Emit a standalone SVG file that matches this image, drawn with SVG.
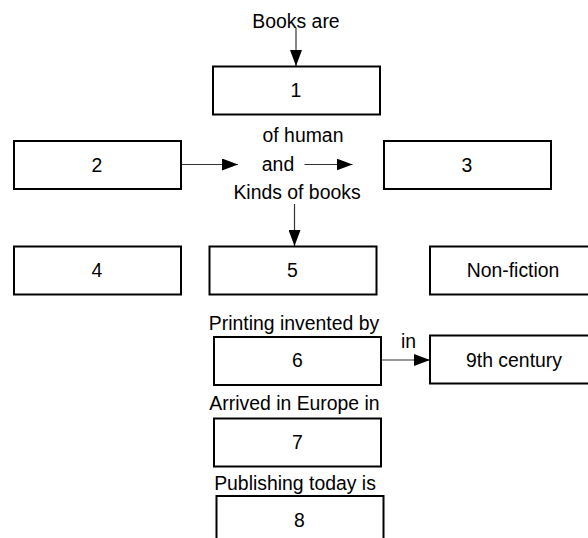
<svg xmlns="http://www.w3.org/2000/svg" width="588" height="538" viewBox="0 0 588 538">
<style>
  .box { fill: #ffffff; stroke: #000000; stroke-width: 2; }
  .t { font-family: "Liberation Sans", Arial, sans-serif; font-size: 19.4px; fill: #000000; text-anchor: middle; }
  .c { stroke: #333333; stroke-width: 1.2; fill: none; marker-end: url(#ah); }
</style>
<defs>
  <marker id="ah" markerUnits="userSpaceOnUse" markerWidth="16" markerHeight="12" refX="16" refY="6" orient="auto" viewBox="0 0 16 12">
    <path d="M0,0 L16,6 L0,12 Z" fill="#000000"/>
  </marker>
</defs>
<rect width="588" height="538" fill="#ffffff"/>

<g id="connectors">
  <line class="c" x1="296" y1="28" x2="296" y2="66"/>
  <line class="c" x1="182" y1="164.5" x2="238" y2="164.5"/>
  <line class="c" x1="304.5" y1="164.5" x2="352.5" y2="164.5"/>
  <line class="c" x1="294.5" y1="204" x2="294.5" y2="246"/>
  <line class="c" x1="382" y1="360" x2="430" y2="360"/>
</g>

<g id="labels">
  <text class="t" x="296" y="27.5">Books are</text>
  <text class="t" x="303" y="142">of human</text>
  <text class="t" x="278" y="171">and</text>
  <text class="t" x="297" y="198.5">Kinds of books</text>
  <text class="t" x="294" y="329.5">Printing invented by</text>
  <text class="t" x="408.5" y="348">in</text>
  <text class="t" x="294.5" y="409.5">Arrived in Europe in</text>
  <text class="t" x="295" y="490">Publishing today is</text>
</g>

<g id="node1"><rect class="box" x="213" y="66.5" width="167" height="48"/><text class="t" x="296" y="97">1</text></g>
<g id="node2"><rect class="box" x="14" y="141" width="167" height="48"/><text class="t" x="97" y="172">2</text></g>
<g id="node3"><rect class="box" x="384" y="141" width="167" height="48"/><text class="t" x="467" y="172">3</text></g>
<g id="node4"><rect class="box" x="14" y="246.5" width="167" height="48"/><text class="t" x="97" y="277">4</text></g>
<g id="node5"><rect class="box" x="209.5" y="246.5" width="167" height="48"/><text class="t" x="292.5" y="277">5</text></g>
<g id="nodeNonFiction"><rect class="box" x="430" y="246.5" width="167" height="48"/><text class="t" x="513" y="277">Non-fiction</text></g>
<g id="node6"><rect class="box" x="214" y="337" width="167" height="48"/><text class="t" x="297.5" y="367">6</text></g>
<g id="node9th"><rect class="box" x="430" y="335.5" width="167" height="48"/><text class="t" x="514" y="366.5">9th century</text></g>
<g id="node7"><rect class="box" x="214" y="418.5" width="167" height="48"/><text class="t" x="297.5" y="448.5">7</text></g>
<g id="node8"><rect class="box" x="216.5" y="496" width="167" height="48"/><text class="t" x="299.5" y="527">8</text></g>
</svg>
